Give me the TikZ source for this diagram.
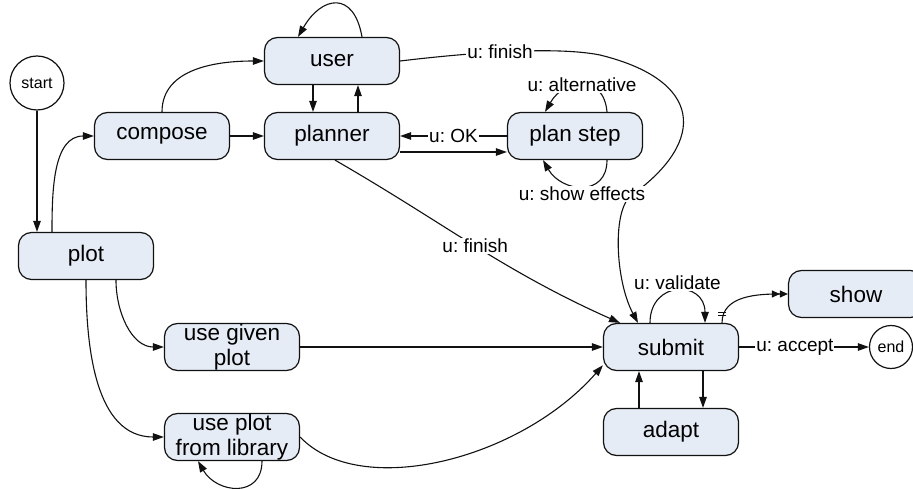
\documentclass[tikz,border=0pt]{standalone}
\usepackage{fontspec}
\setmainfont{Liberation Sans}
\usetikzlibrary{arrows.meta}
\definecolor{statefill}{HTML}{E6ECF6}
\definecolor{edgeline}{HTML}{111111}
\frenchspacing

\begin{document}
\begin{tikzpicture}[x=1pt,y=-1pt,
  state/.style={draw=edgeline, line width=1.2pt, fill=statefill,
    rounded corners=13pt, minimum width=135pt, minimum height=47pt,
    inner sep=0pt, align=center, font=\fontsize{22.5}{25}\selectfont},
  term/.style={circle, draw=edgeline, line width=1.2pt, fill=white,
    inner sep=0pt, font=\fontsize{16}{18}\selectfont},
  lbl/.style={fill=white, inner sep=1pt, font=\fontsize{19}{20}\selectfont},
  arr/.style={draw=edgeline, line width=1.1pt, -{Triangle[length=11pt,width=7.5pt]}},
  arrtwo/.style={draw=edgeline, line width=1.1pt,
    -{Triangle[length=8pt,width=7pt]Triangle[length=8pt,width=7pt]}},
  tick/.style={draw=edgeline, line width=0.9pt}]
\useasboundingbox (0,0) rectangle (913,489);
\clip (0,0) rectangle (913,489);

% states
\node[term, minimum size=54pt] (start) at (37,83) {start};
\node[state] (compose)  at (162,136) {compose};
\node[state] (user)     at (332,61)  {user};
\node[state] (planner)  at (332,136) {planner};
\node[state] (planstep) at (575,136) {plan step};
\node[state] (plot)     at (86,256)  {plot};
\node[state] (given)    at (232,347) {use given\\plot};
\node[state] (library)  at (232,437) {use plot\\from library};
\node[state] (submit)   at (671,347) {submit};
\node[state] (adapt)    at (671,432) {adapt};
\node[state] (show)     at (856,294) {show};
\node[term, minimum size=43pt] (stop) at (891,347) {end};

% left part
\draw[arr] (start.south) -- (start.south |- plot.north);
\draw[arr] ([xshift=-34pt]plot.north) to[out=90,in=180] (compose.west);
\draw[arr] (compose.north) to[out=90,in=180] (user.west);
\draw[arr] (compose.east) -- (planner.west);
\draw[arr] ([xshift=-19pt]user.south) -- ([xshift=-19pt]planner.north);
\draw[arr] ([xshift=26pt]planner.north) -- ([xshift=26pt]user.south);
\draw[arr] ([xshift=30pt]user.north) to[out=100,in=60,looseness=1.9] ([xshift=-34pt]user.north);

% user finishes directly
\draw[arr] (user.east) .. controls (450,55) and (550,45) .. node[lbl]{u: finish} (600,55)
  .. controls (702,80) and (708,140) .. (632,195)
  .. controls (612,208) and (615,280) .. ([xshift=-33pt]submit.north);

% planner and plan step
\draw[arr] ([yshift=-16pt]planner.east) -- ([yshift=-16pt]planstep.west);
\draw[arr] (planstep.west) -- node[lbl]{u: OK} (planner.east);
\draw[arr] ([xshift=32pt]planstep.north) to[out=95,in=60,looseness=1.6]
  node[lbl]{u: alternative} ([xshift=-30pt]planstep.north);
\draw[arr] ([xshift=32pt]planstep.south) to[out=-90,in=-60,looseness=1.5]
  node[lbl, below=-1pt]{u: show effects} ([xshift=-32pt]planstep.south);
\draw[arr] ([xshift=3pt]planner.south) to[out=-30,in=156]
  node[lbl]{u: finish} ([xshift=-51pt]submit.north);

% plot choices
\draw[arr] ([xshift=30pt]plot.south) to[out=-90,in=180] (given.west);
\draw[arr] (plot.south) to[out=-90,in=180] (library.west);
\draw[arr] (given.east) -- (submit.west);
\draw[arr] (library.east) .. controls (360,500) and (520,460) .. (submit.195);
\draw[arr] ([xshift=30pt]library.south) to[out=-90,in=-60,looseness=1.5] ([xshift=-34pt]library.south);

% submit
\draw[arr] ([xshift=-21pt]submit.north) to[out=90,in=90,looseness=2]
  node[lbl, above=-1pt]{u: validate} ([xshift=34pt]submit.north);
\draw[arrtwo] ([xshift=51pt]submit.north) to[out=90,in=180] (show.west);
\draw[tick] ([xshift=47pt,yshift=7pt]submit.north) -- ++(8pt,0pt);
\draw[tick] ([xshift=47pt,yshift=10pt]submit.north) -- ++(8pt,0pt);
\draw[arr] (submit.east) -- node[lbl, pos=0.43]{u: accept} (stop.west);
\draw[arr] ([xshift=32pt]submit.south) -- ([xshift=32pt]adapt.north);
\draw[arr] ([xshift=-32pt]adapt.north) -- ([xshift=-32pt]submit.south);
\end{tikzpicture}
\end{document}
